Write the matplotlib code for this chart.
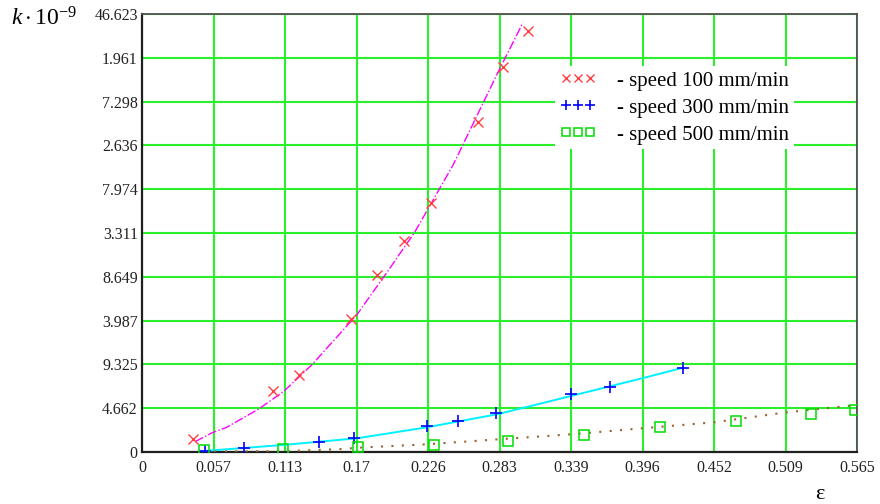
import matplotlib
matplotlib.use("Agg")
import matplotlib.pyplot as plt
from matplotlib.lines import Line2D

plt.rcParams["font.family"] = ["Liberation Serif", "DejaVu Serif"]
plt.rcParams["mathtext.fontset"] = "custom"
plt.rcParams["mathtext.rm"] = "Liberation Serif"
plt.rcParams["mathtext.it"] = "Liberation Serif:italic"

# speed 100 mm/min: measured points and trend line
eps_100 = [0.0405, 0.1038, 0.124, 0.165, 0.186, 0.207, 0.2284, 0.2658, 0.285, 0.3053]
k_100 = [1.35, 6.49, 8.20, 14.13, 18.84, 22.46, 26.47, 35.16, 41.01, 44.85]
fit_eps_100 = [0.042, 0.0556, 0.0669, 0.0919, 0.1117, 0.1341, 0.1696, 0.195, 0.2157, 0.246, 0.2815, 0.301]
fit_k_100 = [1.1, 2.06, 2.63, 4.55, 6.42, 9.26, 14.58, 19.4, 23.45, 30.6, 40.48, 45.7]

# speed 300 mm/min
eps_300 = [0.0498, 0.0808, 0.1399, 0.1675, 0.2252, 0.2495, 0.2797, 0.339, 0.3698, 0.4278]
k_300 = [0.14, 0.46, 1.03, 1.52, 2.80, 3.30, 4.19, 6.17, 6.95, 8.98]
fit_eps_300 = [0.0485, 0.1117, 0.17, 0.2252, 0.2815, 0.339, 0.395, 0.4278]
fit_k_300 = [0.10, 0.75, 1.46, 2.63, 4.04, 5.96, 7.84, 8.98]

# speed 500 mm/min
eps_500 = [0.049, 0.1117, 0.1709, 0.2307, 0.2895, 0.3495, 0.4093, 0.4694, 0.5284, 0.5634]
k_500 = [0.20, 0.29, 0.50, 0.75, 1.20, 1.81, 2.69, 3.30, 4.04, 4.47]
fit_eps_500 = [0.049, 0.113, 0.156, 0.17, 0.2252, 0.2815, 0.339, 0.395, 0.452, 0.509, 0.565]
fit_k_500 = [0.05, 0.10, 0.30, 0.45, 0.82, 1.35, 1.88, 2.52, 3.16, 4.22, 5.0]

x_ticks = [0.0, 0.0565, 0.113, 0.1695, 0.226, 0.2825, 0.339, 0.3955, 0.452, 0.5085, 0.565]
x_labels = ["0", "0.057", "0.113", "0.17", "0.226", "0.283", "0.339", "0.396", "0.452", "0.509", "0.565"]
y_ticks = [0.0, 4.6623, 9.3246, 13.9869, 18.6492, 23.3115, 27.9738, 32.6361, 37.2984, 41.9607, 46.623]
y_labels = ["0", "4.662", "9.325", "3.987", "8.649", "3.311", "7.974", "2.636", "7.298", "1.961", "46.623"]
legend_labels = ["- speed 100 mm/min", "- speed 300 mm/min", "- speed 500 mm/min"]

fig = plt.figure(figsize=(8.8, 5.04), dpi=100)
ax = fig.add_axes([0.1614, 0.1032, 0.8125, 0.869])

ax.plot(fit_eps_100, fit_k_100, color="#ff00ff", ls="-.", lw=1.0, zorder=3)
ax.plot(fit_eps_300, fit_k_300, color="#00f0ff", ls="-", lw=1.4, zorder=3)
ax.plot(fit_eps_500, fit_k_500, color="#996633", ls=(0, (1, 4)), lw=1.5, zorder=3)

ax.plot(eps_100, k_100, ls="none", marker="x", ms=7, mew=1.0, color="#ff4040", zorder=4)
ax.plot(eps_300, k_300, ls="none", marker="+", ms=9, mew=1.2, color="#0000ff", zorder=4)
ax.plot(eps_500, k_500, ls="none", marker="s", ms=6.5, mew=1.1, mfc="none", mec="#00dd00", zorder=4)

ax.set_xlim(0, 0.565)
ax.set_ylim(0, 46.623)
ax.set_xticks(x_ticks)
ax.set_xticklabels(x_labels)
ax.set_yticks(y_ticks)
ax.set_yticklabels(y_labels)
ax.tick_params(length=0, labelsize=11.5, colors="#222222")
ax.tick_params(axis="x", pad=6)
ax.tick_params(axis="y", pad=3)
ax.grid(True, color="#2bef2b", lw=1.5)
ax.set_axisbelow(True)

for side in ["left", "bottom"]:
    ax.spines[side].set_color("#202020")
    ax.spines[side].set_linewidth(1.6)
for side in ["top", "right"]:
    ax.spines[side].set_color("#505050")
    ax.spines[side].set_linewidth(1.3)

handles = [
    Line2D([], [], ls="none", marker="x", ms=5.5, mew=1.0, color="#ff4040"),
    Line2D([], [], ls="none", marker="+", ms=6.5, mew=1.2, color="#0000ff"),
    Line2D([], [], ls="none", marker="s", ms=5.5, mew=1.1, mfc="none", mec="#00dd00"),
]
leg = ax.legend(handles, legend_labels, numpoints=3, loc="upper left",
                bbox_to_anchor=(0.5776, 0.881), borderaxespad=0, borderpad=0.23,
                handlelength=1.75, handletextpad=0.99, labelspacing=0.36,
                fontsize=15, frameon=True, fancybox=False, framealpha=1,
                edgecolor="none", facecolor="white")
leg.set_zorder(5)

fig.text(0.013, 0.962, r"$k\cdot10^{-9}$", fontsize=17, ha="left", va="center")
fig.text(0.932, 0.018, "ε", fontsize=16, ha="center", va="center")

fig.savefig("out.png", dpi=100)
